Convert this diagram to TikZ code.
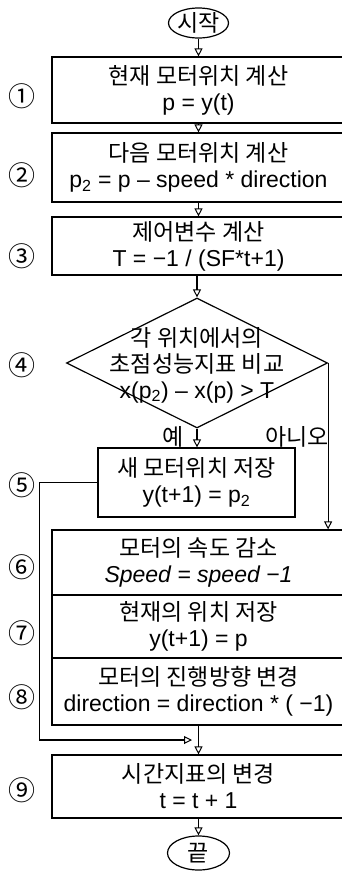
\documentclass[tikz,border=0pt]{standalone}
\usepackage{fontspec}
\setmainfont{Liberation Sans}
\newfontfamily\kr{Noto Sans CJK KR}
\usetikzlibrary{shapes.geometric,arrows.meta}
\newcommand\txtsize{\fontsize{23}{26}\selectfont}
\tikzset{
  box/.style={draw, line width=1.2pt, rectangle, minimum width=293pt, inner sep=0pt, align=center, font=\txtsize},
  term/.style={draw, ellipse, line width=1.2pt, inner sep=0pt, font=\txtsize\kr},
  arr/.style={line width=1.2pt, -{Triangle[open,length=8pt,width=8pt,line width=1pt]}},
  num/.style={font=\kr\fontsize{27}{27}\selectfont},
  dia/.style={draw, diamond, line width=1.2pt, inner sep=0pt},
  lbl/.style={font=\txtsize\kr, inner sep=0pt}
}
\begin{document}
\begin{tikzpicture}[x=1pt,y=-1pt]
\useasboundingbox (0,0) rectangle (341,871);
\node[term, minimum width=60pt, minimum height=30pt] (s) at (198.5,23) {시작};
\node[box, minimum height=66pt] (b1) at (198.5,90) {{\kr 현재 모터위치 계산}\\p = y(t)};
\node[box, minimum height=69pt] (b2) at (198.5,167.5) {{\kr 다음 모터위치 계산}\\p\textsubscript{2} = p – speed * direction};
\node[box, minimum height=58pt] (b3) at (198.5,246) {{\kr 제어변수 계산}\\T = −1 / (SF*t+1)};
\node[dia, minimum width=261pt, minimum height=130pt] (d) at (197,363) {};
\node[align=center, font=\txtsize, inner sep=0pt] (dt) at (197,365) {{\kr 각 위치에서의}\\{\kr 초점성능지표 비교}\\x(p\textsubscript{2}) – x(p) > T};
\node[box, minimum width=197pt, minimum height=69pt] (b5) at (196.5,482.5) {{\kr 새 모터위치 저장}\\y(t+1) = p\textsubscript{2}};
\node[box, minimum height=65pt] (b6) at (198.5,562.5) {{\kr 모터의 속도 감소}\\\textit{Speed = speed  −1}};
\node[box, minimum height=63pt] (b7) at (198.5,626.5) {{\kr 현재의 위치 저장}\\y(t+1) = p};
\node[box, minimum height=67pt] (b8) at (198.5,691.5) {{\kr 모터의 진행방향 변경}\\direction = direction * ( −1)};
\node[box, minimum height=63pt] (b9) at (198.5,786.5) {{\kr 시간지표의 변경}\\t = t + 1};
\node[term, minimum width=62pt, minimum height=34pt] (e) at (198.5,853) {끝};
\node[lbl] (yes) at (173,437) {예};
\node[lbl] (no) at (297,437) {아니오};
\coordinate (m) at (192,740);
\foreach \n/\yy in {①/96,②/175,③/256,④/365,⑤/485,⑥/567,⑦/633,⑧/697,⑨/790}
  \node[num] at (22,\yy) {\n};
\draw[arr] (s) -- (b1);
\draw[arr] (b1) -- (b2);
\draw[arr] (b2) -- (b3);
\draw[arr] (b3.south -| d.north) -- (d.north);
\draw[arr] (d.south) -- (b5.north -| d.south);
\draw[arr] (d.east) -- (d.east |- b6.north);
\draw[arr] (b5.west) -- ++(-58,0) |- (m);
\draw[arr] (b8.south) -- (b9.north);
\draw[arr] (b9) -- (e);
\end{tikzpicture}
\end{document}
